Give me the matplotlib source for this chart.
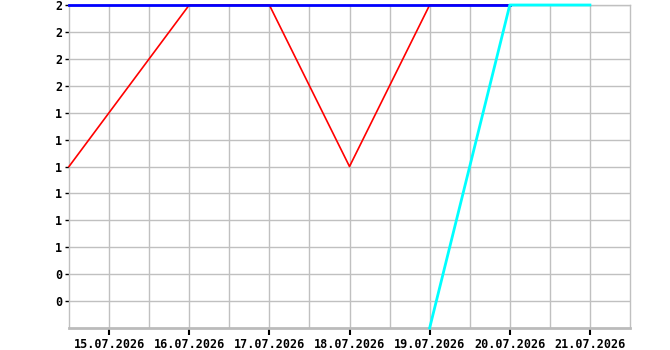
import datetime as dt
import matplotlib
matplotlib.use("Agg")
import matplotlib.pyplot as plt
import matplotlib.dates as mdates

# series data (day, value)
red_days = [dt.datetime(2026, 7, 14, 12), dt.datetime(2026, 7, 16), dt.datetime(2026, 7, 17),
            dt.datetime(2026, 7, 18), dt.datetime(2026, 7, 19), dt.datetime(2026, 7, 20)]
red_vals = [1, 2, 2, 1, 2, 2]
blue_days = [dt.datetime(2026, 7, 14, 12), dt.datetime(2026, 7, 20)]
blue_vals = [2, 2]
cyan_days = [dt.datetime(2026, 7, 19), dt.datetime(2026, 7, 20), dt.datetime(2026, 7, 21)]
cyan_vals = [0, 2, 2]

ytick_vals = [2 - k / 6 for k in range(12)]
ytick_labels = ["2", "2", "2", "2", "1", "1", "1", "1", "1", "1", "0", "0"]
xtick_days = [dt.datetime(2026, 7, d) for d in range(15, 22)]

plt.rcParams['font.family'] = ['DejaVu Sans Mono']
plt.rcParams['font.weight'] = 'bold'

fig = plt.figure(figsize=(6.7, 3.5), dpi=100)
ax = fig.add_axes([69 / 670, 1 - 328 / 350, (630 - 69) / 670, (328 - 5) / 350])

ax.plot(red_days, red_vals, color='#ff0000', lw=1.2, clip_on=False, zorder=3)
ax.plot(blue_days, blue_vals, color='#0000ff', lw=2.0, clip_on=False, zorder=4)
ax.plot(cyan_days, cyan_vals, color='#00ffff', lw=2.0, clip_on=False, zorder=5)

ax.set_xlim(dt.datetime(2026, 7, 14, 12), dt.datetime(2026, 7, 21, 12))
ax.set_ylim(0, 2)

ax.set_xticks(xtick_days)
ax.xaxis.set_major_formatter(mdates.DateFormatter('%d.%m.%Y'))
ax.set_xticks([d + dt.timedelta(hours=12) for d in xtick_days[:-1]], minor=True)
ax.set_yticks(ytick_vals)
ax.set_yticklabels(ytick_labels)

ax.tick_params(axis='x', which='major', length=5, width=1.5, color='black',
               labelsize=8.5, pad=2)
ax.tick_params(axis='x', which='minor', length=0)
ax.tick_params(axis='y', length=3, width=1, color='black', labelsize=8.5, pad=2)

ax.grid(True, which='both', color='#c0c0c0', lw=1)
for s in ['left', 'right', 'top']:
    ax.spines[s].set_color('#c0c0c0')
    ax.spines[s].set_linewidth(1)
ax.spines['bottom'].set_color('#bbbbbb')
ax.spines['bottom'].set_linewidth(2)

fig.savefig('out.png', dpi=100)
